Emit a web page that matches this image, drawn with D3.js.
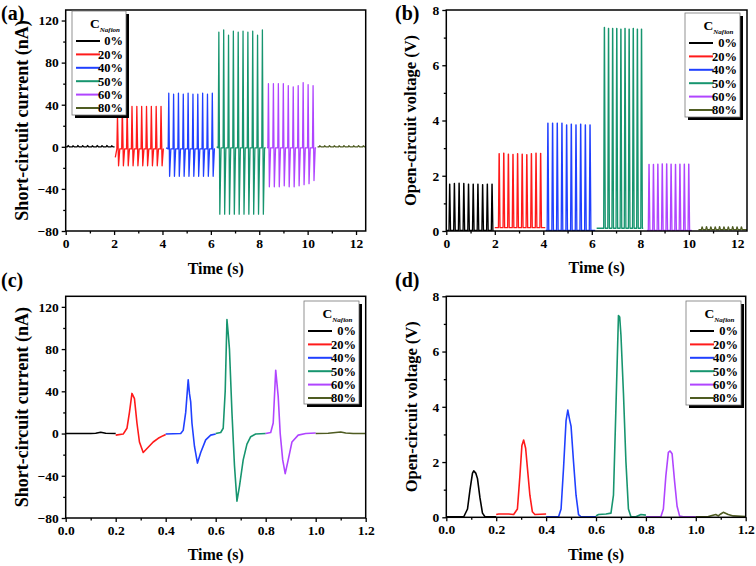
<!DOCTYPE html>
<html><head><meta charset="utf-8">
<script src="https://cdn.jsdelivr.net/npm/d3@7"></script>
<style>
body{margin:0;background:#fff}
svg{display:block}
text{font-family:"Liberation Serif","Times New Roman",serif;font-weight:bold;fill:#000}
</style>
</head><body><svg id="chart" width="756" height="566"></svg>
<script>
// ---------------- DATA ----------------
const concentrations = ["0%", "20%", "40%", "50%", "60%", "80%"];
const seriesColors = ["#000000", "#ff1a1a", "#2040ff", "#17956f", "#b045ff", "#4f5c22"];

const xTicksLong = [0, 2, 4, 6, 8, 10, 12];
const xMinorLong = [1, 3, 5, 7, 9, 11];
const xTicksShort = [0.0, 0.2, 0.4, 0.6, 0.8, 1.0, 1.2];
const xMinorShort = [0.1, 0.3, 0.5, 0.7, 0.9, 1.1];
const yTicksCurrent = [-80, -40, 0, 40, 80, 120];
const yMinorCurrent = [-60, -20, 20, 60, 100];
const yTicksVoltage = [0, 2, 4, 6, 8];
const yMinorVoltage = [1, 3, 5, 7];

// (a) short-circuit current, 10 cycles per concentration
const segStartA = [0, 2.05, 4.15, 6.24, 8.33, 10.41];
const segEndA = [2.02, 4.05, 6.17, 8.27, 10.35, 12.42];
const segStartValA = [0, -10, -1, 0, 0, 0];
const firstPeakA = [0.1, 2.14, 4.26, 6.33, 8.38, 10.5];
const periodA = [0.2, 0.2, 0.2, 0.2, 0.205, 0.2];
const troughLagA = [0.05, 0.045, 0.035, 0.04, 0.038, 0.05];
const baseA = [0, -2, -2, -1, -1, 0];
const peaksA = [
  [1.2, 1.0, 1.2, 1.1, 1.2, 1.0, 1.2, 1.1, 1.2, 1.0],
  [30, 38.5, 38.5, 38.5, 38.5, 38.5, 38.5, 38.5, 38.5, 38.5],
  [51, 50, 51, 50, 51, 50, 50, 51, 50, 51],
  [109, 111, 106, 110, 109, 110, 109, 110, 106, 111],
  [60, 60, 60, 60, 58, 57, 58, 61, 59, 58],
  [1.0, 1.0, 1.1, 1.0, 1.0, 1.1, 1.0, 1.0, 1.1, 1.0]
];
const troughsA = [
  [0, 0, 0, 0, 0, 0, 0, 0, 0, 0],
  [-18, -18, -18, -18, -18, -18, -18, -18, -18, -18],
  [-28, -28, -28, -28, -28, -28, -28, -28, -28, -28],
  [-64, -64, -64, -64, -64, -64, -64, -64, -64, -64],
  [-38, -38, -38, -37, -38, -38, -37, -36, -35, -32],
  [0, 0, 0, 0, 0, 0, 0, 0, 0, 0]
];

// (b) open-circuit voltage, 10 cycles per concentration
const segStartB = [0, 2.0, 4.1, 6.2, 8.28, 10.4];
const segEndB = [1.95, 4.08, 6.14, 8.12, 10.12, 12.4];
const firstPeakB = [0.14, 2.18, 4.19, 6.52, 8.36, 10.55];
const periodB = [0.194, 0.19, 0.193, 0.17, 0.182, 0.18];
const baseB = [0.02, 0.12, 0.02, 0.1, 0.02, 0.05];
const peaksB = [
  [1.7, 1.72, 1.73, 1.72, 1.7, 1.7, 1.7, 1.68, 1.7, 1.7],
  [2.8, 2.82, 2.78, 2.77, 2.8, 2.78, 2.76, 2.8, 2.82, 2.81],
  [3.9, 3.9, 3.9, 3.9, 3.84, 3.87, 3.84, 3.87, 3.84, 3.84],
  [7.37, 7.33, 7.33, 7.33, 7.31, 7.33, 7.31, 7.33, 7.31, 7.31],
  [2.41, 2.41, 2.42, 2.43, 2.43, 2.42, 2.41, 2.42, 2.42, 2.42],
  [0.15, 0.16, 0.15, 0.15, 0.16, 0.15, 0.15, 0.16, 0.15, 0.15]
];

// (c) single-cycle short-circuit current  [time s, current nA]
const currentWaves = [
  [[0, 0], [0.1, 0], [0.12, 0.3], [0.14, 1.2], [0.16, 0.3], [0.2, 0]],
  [[0.2, -1.5], [0.23, -0.5], [0.245, 5], [0.255, 20], [0.265, 38], [0.275, 33], [0.285, 10], [0.295, -8], [0.31, -18], [0.33, -13], [0.35, -8], [0.37, -4.5], [0.39, -2], [0.4, -1]],
  [[0.4, -0.5], [0.46, 0], [0.47, 3], [0.48, 20], [0.49, 51], [0.495, 38], [0.5, 30], [0.505, 10], [0.515, -12], [0.527, -28], [0.54, -18], [0.56, -6], [0.58, -1.5], [0.6, -0.5]],
  [[0.6, 0], [0.62, 1], [0.63, 5], [0.638, 40], [0.645, 108], [0.65, 95], [0.655, 80], [0.665, 20], [0.675, -30], [0.685, -64], [0.695, -50], [0.71, -25], [0.725, -10], [0.74, -3], [0.76, -0.5], [0.8, 0]],
  [[0.8, 0], [0.82, 1], [0.83, 10], [0.84, 60], [0.85, 35], [0.858, 0], [0.868, -25], [0.878, -38], [0.89, -25], [0.905, -8], [0.93, -1.5], [0.96, 0], [1.0, 0.5]],
  [[1.0, 0], [1.05, 0.3], [1.08, 1], [1.1, 1.5], [1.12, 0.5], [1.15, 0], [1.2, 0]]
];

// (d) single-cycle open-circuit voltage [time s, voltage V]
const voltageWaves = [
  [[0, 0.02], [0.07, 0.02], [0.085, 0.3], [0.095, 1.0], [0.105, 1.6], [0.11, 1.68], [0.118, 1.6], [0.125, 1.4], [0.135, 0.7], [0.145, 0.15], [0.155, 0.02], [0.2, 0.02]],
  [[0.2, 0.1], [0.21, 0.12], [0.25, 0.12], [0.27, 0.1], [0.285, 0.3], [0.295, 1.5], [0.303, 2.6], [0.31, 2.8], [0.318, 2.5], [0.325, 1.8], [0.335, 0.8], [0.345, 0.2], [0.355, 0.1], [0.4, 0.12]],
  [[0.4, 0.02], [0.45, 0.02], [0.46, 0.3], [0.47, 1.8], [0.48, 3.5], [0.487, 3.88], [0.495, 3.5], [0.5, 3.3], [0.51, 2.0], [0.52, 0.8], [0.53, 0.1], [0.54, 0.02], [0.6, 0.02]],
  [[0.6, 0.05], [0.61, 0.1], [0.64, 0.12], [0.66, 0.15], [0.67, 0.8], [0.68, 4], [0.69, 7.3], [0.695, 7.25], [0.7, 6.6], [0.71, 4.5], [0.72, 2], [0.73, 0.3], [0.74, 0.02], [0.76, 0.02], [0.78, 0.1], [0.8, 0.08]],
  [[0.8, 0.02], [0.86, 0.02], [0.87, 0.3], [0.88, 1.5], [0.89, 2.35], [0.897, 2.4], [0.905, 2.3], [0.915, 1.3], [0.925, 0.4], [0.935, 0.05], [0.95, 0.02], [1.0, 0.02]],
  [[1.0, 0.02], [1.05, 0.03], [1.08, 0.1], [1.09, 0.05], [1.1, 0.12], [1.11, 0.18], [1.13, 0.1], [1.15, 0.05], [1.2, 0.03]]
];

// ---------------- BUILD SERIES ----------------
function seriesA(i) {
  const pts = [[segStartA[i], segStartValA[i]]];
  peaksA[i].forEach((p, j) => {
    const t = firstPeakA[i] + j * periodA[i];
    pts.push([t - 0.025, baseA[i]], [t, p], [t + troughLagA[i], troughsA[i][j]], [t + troughLagA[i] + 0.05, baseA[i]]);
  });
  pts.push([segEndA[i], baseA[i]]);
  return pts;
}
function seriesB(i) {
  const pts = [[segStartB[i], baseB[i]]];
  peaksB[i].forEach((p, j) => {
    const t = firstPeakB[i] + j * periodB[i];
    pts.push([t - 0.03, baseB[i]], [t - 0.004, p], [t + 0.004, p], [t + 0.035, baseB[i]]);
  });
  pts.push([segEndB[i], baseB[i]]);
  return pts;
}

// ---------------- DRAW ----------------
const svg = d3.select("#chart");

function panel(cfg) {
  const g = svg.append("g");
  const x = d3.scaleLinear().domain(cfg.xDomain).range([cfg.left, cfg.right]);
  const y = d3.scaleLinear().domain(cfg.yDomain).range([cfg.bottom, cfg.top]);
  const clipId = "clip" + cfg.id;
  svg.append("clipPath").attr("id", clipId).append("rect")
    .attr("x", cfg.left).attr("y", cfg.top - 1)
    .attr("width", cfg.right - cfg.left).attr("height", cfg.bottom - cfg.top + 1);

  // data lines
  const line = d3.line().x(d => x(d[0])).y(d => y(d[1]));
  const lg = g.append("g").attr("clip-path", `url(#${clipId})`);
  cfg.series.forEach((s, i) => {
    lg.append("path").attr("d", line(s)).attr("fill", "none")
      .attr("stroke", seriesColors[i]).attr("stroke-width", cfg.lw)
      .attr("stroke-linejoin", "round");
  });

  // axes
  g.append("g").attr("transform", `translate(0,${cfg.bottom})`)
    .call(d3.axisBottom(x).tickValues(cfg.xTicks).tickFormat(cfg.xFmt).tickSize(4).tickPadding(3));
  g.append("g").attr("transform", `translate(0,${cfg.bottom})`)
    .call(d3.axisBottom(x).tickValues(cfg.xMinor).tickFormat("").tickSize(2.5));
  g.append("g").attr("transform", `translate(${cfg.left},0)`)
    .call(d3.axisLeft(y).tickValues(cfg.yTicks).tickFormat(d3.format("d")).tickSize(4).tickPadding(3));
  g.append("g").attr("transform", `translate(${cfg.left},0)`)
    .call(d3.axisLeft(y).tickValues(cfg.yMinor).tickFormat("").tickSize(2.5));
  g.selectAll(".domain").remove();
  g.selectAll(".tick line").attr("stroke", "#000").attr("stroke-width", 1.3);
  g.selectAll(".tick text").style("font-size", "13.5px")
    .style("font-family", '"Liberation Serif","Times New Roman",serif').style("font-weight", "bold");

  // frame
  g.append("rect").attr("x", cfg.left).attr("y", cfg.top)
    .attr("width", cfg.right - cfg.left).attr("height", cfg.bottom - cfg.top)
    .attr("fill", "none").attr("stroke", "#000").attr("stroke-width", 1.5);

  // titles
  g.append("text").attr("x", (cfg.left + cfg.right) / 2).attr("y", cfg.xTitleY)
    .attr("text-anchor", "middle").style("font-size", "16px").text("Time (s)");
  g.append("text").attr("transform", `translate(${cfg.yTitleX},${(cfg.top + cfg.bottom) / 2}) rotate(-90)`)
    .attr("text-anchor", "middle").attr("dy", "0.35em").style("font-size", cfg.yTitleSize).text(cfg.yTitle);
  g.append("text").attr("x", cfg.tagX).attr("y", cfg.tagY).style("font-size", "20px").text(cfg.tag);

  // legend
  const L = cfg.legend;
  const leg = g.append("g").attr("transform", `translate(${L.x},${L.y})`);
  leg.append("rect").attr("x", 3).attr("y", 3).attr("width", L.w).attr("height", L.h).attr("fill", "#000");
  leg.append("rect").attr("x", 0).attr("y", 0).attr("width", L.w).attr("height", L.h)
    .attr("fill", "#fff").attr("stroke", "#777").attr("stroke-width", 0.8);
  const title = leg.append("text").attr("x", L.w / 2 - 9).attr("y", 17).style("font-size", "13.5px");
  title.append("tspan").text("C");
  title.append("tspan").attr("dy", 4).style("font-size", "7px").style("font-style", "italic").text("Nafion");
  concentrations.forEach((c, i) => {
    const yy = 30 + i * 13.4;
    leg.append("line").attr("x1", 4).attr("x2", 28).attr("y1", yy).attr("y2", yy)
      .attr("stroke", seriesColors[i]).attr("stroke-width", 2);
    leg.append("text").attr("x", L.w - 3).attr("y", yy).attr("dy", "0.35em")
      .attr("text-anchor", "end").style("font-size", "12.5px").text(c);
  });
}

const fmtInt = d3.format("d");
const fmt1 = d3.format(".1f");

panel({
  id: "a", left: 65.7, right: 365.7, top: 10, bottom: 231,
  xDomain: [0, 12.4], yDomain: [-80, 130],
  xTicks: xTicksLong, xMinor: xMinorLong, yTicks: yTicksCurrent, yMinor: yMinorCurrent,
  xFmt: fmtInt, series: concentrations.map((c, i) => seriesA(i)), lw: 1.3,
  xTitleY: 274, yTitleX: 22, yTitle: "Short-circuit current (nA)", yTitleSize: "18px",
  tag: "(a)", tagX: 1, tagY: 20,
  legend: { x: 72, y: 11, w: 54, h: 104 }
});
panel({
  id: "b", left: 446.3, right: 747, top: 10, bottom: 231,
  xDomain: [0, 12.4], yDomain: [0, 8],
  xTicks: xTicksLong, xMinor: xMinorLong, yTicks: yTicksVoltage, yMinor: yMinorVoltage,
  xFmt: fmtInt, series: concentrations.map((c, i) => seriesB(i)), lw: 1.3,
  xTitleY: 273, yTitleX: 410, yTitle: "Open-circuit voltage (V)", yTitleSize: "16.5px",
  tag: "(b)", tagX: 395, tagY: 20,
  legend: { x: 685, y: 13, w: 55, h: 104 }
});
panel({
  id: "c", left: 65.7, right: 365.7, top: 296.3, bottom: 518,
  xDomain: [0, 1.2], yDomain: [-80, 130],
  xTicks: xTicksShort, xMinor: xMinorShort, yTicks: yTicksCurrent, yMinor: yMinorCurrent,
  xFmt: fmt1, series: currentWaves, lw: 1.6,
  xTitleY: 560, yTitleX: 22, yTitle: "Short-circuit current (nA)", yTitleSize: "18px",
  tag: "(c)", tagX: 1, tagY: 287,
  legend: { x: 304, y: 301, w: 55, h: 103 }
});
panel({
  id: "d", left: 446.3, right: 745.7, top: 296.3, bottom: 517.3,
  xDomain: [0, 1.2], yDomain: [0, 8],
  xTicks: xTicksShort, xMinor: xMinorShort, yTicks: yTicksVoltage, yMinor: yMinorVoltage,
  xFmt: fmt1, series: voltageWaves, lw: 1.6,
  xTitleY: 560, yTitleX: 411, yTitle: "Open-circuit voltage (V)", yTitleSize: "16.5px",
  tag: "(d)", tagX: 395, tagY: 287,
  legend: { x: 686, y: 301, w: 55, h: 104 }
});
</script>
</body></html>
